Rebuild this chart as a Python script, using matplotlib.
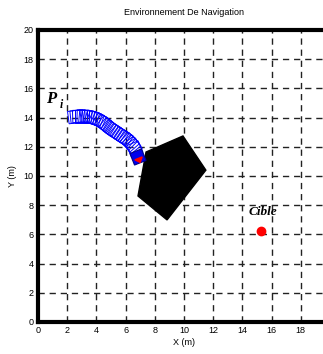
import numpy as np
import matplotlib.pyplot as plt
from matplotlib.patches import Polygon

plt.rcParams['font.family'] = ['Liberation Sans', 'DejaVu Sans']

# Robot trajectory (estimated centres)
traj_x = [2.5, 2.65, 2.8, 2.95, 3.1, 3.25, 3.4, 3.55, 3.7, 3.85, 4.0, 4.15,
          4.3, 4.45, 4.6, 4.75, 4.9, 5.05, 5.2, 5.35, 5.5, 5.65, 5.8, 5.95,
          6.1, 6.22, 6.35, 6.45, 6.55, 6.63]
traj_y = [14.05, 14.07, 14.08, 14.08, 14.08, 14.07, 14.05, 14.03, 14.0, 13.95,
          13.9, 13.83, 13.75, 13.65, 13.55, 13.43, 13.3, 13.2, 13.1, 13.0,
          12.9, 12.8, 12.7, 12.6, 12.5, 12.38, 12.25, 12.12, 12.0, 11.85]
robot_end = (6.85, 11.3)

# Obstacle (pentagon)
obs_x = [9.93, 11.5, 8.84, 6.85, 7.4]
obs_y = [12.74, 10.4, 6.99, 8.63, 11.64]

# Target
cible_x, cible_y = 15.3, 6.2

xticks = [0, 2, 4, 6, 8, 10, 12, 14, 16, 18]
yticks = [0, 2, 4, 6, 8, 10, 12, 14, 16, 18, 20]

side = 0.85


def square(cx, cy, ang, s):
    h = s / 2
    pts = np.array([[-h, -h], [h, -h], [h, h], [-h, h]])
    c, sn = np.cos(ang), np.sin(ang)
    R = np.array([[c, -sn], [sn, c]])
    return pts @ R.T + [cx, cy]


fig = plt.figure(figsize=(3.23, 3.54), dpi=100)
ax = fig.add_axes([0.1176, 0.0904, 0.904, 0.825])

ax.fill(obs_x, obs_y, color='black', zorder=3)

xs = np.array(traj_x + [robot_end[0]])
ys = np.array(traj_y + [robot_end[1]])
angs = np.arctan2(np.gradient(ys), np.gradient(xs))
for i in range(len(traj_x)):
    ax.add_patch(Polygon(square(xs[i], ys[i], angs[i], side), closed=True,
                         fill=False, edgecolor='#0000ff', lw=0.7, zorder=4))

a = angs[-1]
ax.add_patch(Polygon(square(robot_end[0], robot_end[1], a, side), closed=True,
                     facecolor='#0000ee', edgecolor='#000088', lw=0.8, zorder=5))
c, sn = np.cos(a), np.sin(a)
tri = np.array([[0.4, 0.0], [0.1, 0.27], [0.1, -0.27]])
R = np.array([[c, -sn], [sn, c]])
ax.add_patch(Polygon(tri @ R.T + robot_end, closed=True, color='red', zorder=6))

ax.plot(cible_x, cible_y, 'o', color='red', markersize=6, zorder=5)
ax.text(cible_x + 0.1, 7.15, 'Cible', family='Liberation Serif', style='italic',
        weight='bold', fontsize=9.5, ha='center', va='bottom')
ax.text(0.55, 14.75, 'P', family='Liberation Serif',
        style='italic', weight='bold', fontsize=12, ha='left', va='bottom')
ax.text(1.5, 14.45, 'i', family='Liberation Serif', style='italic',
        weight='bold', fontsize=8.5, ha='left', va='bottom')

ax.set_xlim(0, 20)
ax.set_ylim(0, 20)
ax.set_xticks(xticks)
ax.set_yticks(yticks)
ax.tick_params(labelsize=6.5, length=0, pad=3)
ax.grid(True, color='#222222', linestyle=(0, (4.5, 3.5)), linewidth=1.0)
for sp in ax.spines.values():
    sp.set_linewidth(3)

ax.set_title('Environnement De Navigation', fontsize=6.5, pad=11)
ax.set_xlabel('X (m)', fontsize=6.5, labelpad=2)
ax.set_ylabel('Y (m)', fontsize=6.5, labelpad=5)

fig.savefig('out.png', dpi=100)
